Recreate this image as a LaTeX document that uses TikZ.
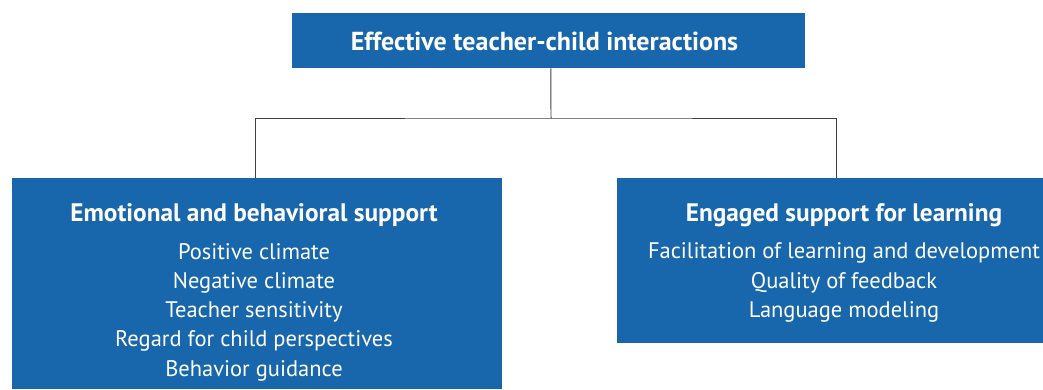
\documentclass[tikz,border=0pt]{standalone}
\usepackage{fontspec}
\setmainfont{PT Sans}
\usetikzlibrary{positioning}
\definecolor{boxblue}{RGB}{24,103,172}
\tikzset{
  bluebox/.style={fill=boxblue, draw=none, inner sep=0pt},
  headtext/.style={text=white, font=\bfseries\fontsize{18}{22}\selectfont, inner sep=0pt},
  itemtext/.style={text=white, font=\fontsize{16}{20.8}\selectfont, align=center, inner sep=0pt},
  link/.style={draw=black!75, line width=0.7pt}
}

\begin{document}
\begin{tikzpicture}[x=0.025cm, y=-0.025cm]
		%%%%% START %%%%%
		\useasboundingbox (0,0) rectangle (1043,389);
		
		\node[bluebox, minimum width=12.825cm, minimum height=1.375cm] (top) at (548.5, 40.5) {};
		\node[bluebox, minimum width=12.25cm, minimum height=5.275cm] (emo) at (257, 283.5) {};
		\node[bluebox, minimum width=10.65cm, minimum height=4.125cm] (eng) at (830, 260.5) {};
		
		\node[headtext, font=\bfseries\fontsize{18.5}{22}\selectfont] (toptitle) at (544.5, 41) {Effective teacher-child interactions};
		
		\node[headtext] (emotitle) at (254, 215) {Emotional and behavioral support};
		\node[itemtext] (emoitems) at (254, 312) {Positive climate\\Negative climate\\Teacher sensitivity\\Regard for child perspectives\\Behavior guidance};
		
		\node[headtext] (engtitle) at (844, 215) {Engaged support for learning};
		\node[itemtext] (engitems) at (844, 282.5) {Facilitation of learning and development\\Quality of feedback\\Language modeling};
		
		\coordinate (branch) at (551, 118);
		\draw[link] ([xshift=0.06cm]top.south) -- (branch);
		\draw[link] ([xshift=-0.05cm]emo.north) |- (branch) -| ([xshift=0.15cm]eng.north);
		
		%%%%% END %%%%%
\end{tikzpicture}
\end{document}
